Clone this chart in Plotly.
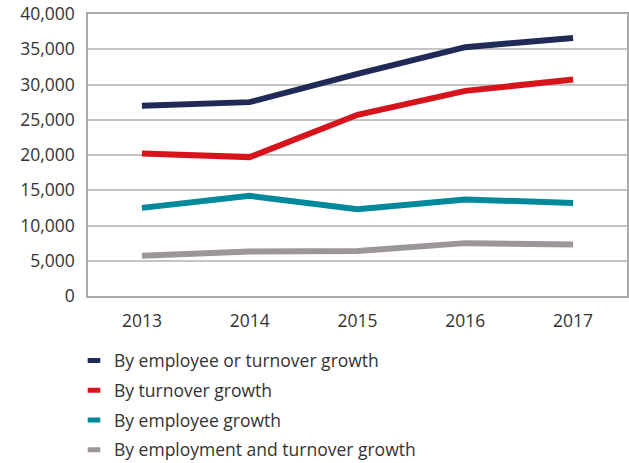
import plotly.graph_objects as go

years = ["2013", "2014", "2015", "2016", "2017"]
employee_or_turnover = [27000, 27500, 31500, 35300, 36600]
turnover = [20200, 19700, 25700, 29100, 30700]
employee = [12500, 14200, 12300, 13700, 13200]
employment_and_turnover = [5700, 6300, 6400, 7500, 7300]

series = [
    ("By employee or turnover growth", employee_or_turnover, "#1f2a57"),
    ("By turnover growth", turnover, "#d7141c"),
    ("By employee growth", employee, "#00899a"),
    ("By employment and turnover growth", employment_and_turnover, "#9d9699"),
]

fig = go.Figure()
for i, (name, vals, color) in enumerate(series):
    # data line
    fig.add_trace(go.Scatter(
        x=years, y=vals, name=name, mode="lines",
        line=dict(color=color, width=6),
        showlegend=False, legendgroup=f"g{i}",
    ))
    # short dash used as the legend key
    fig.add_trace(go.Scatter(
        x=[None], y=[None], name=name, mode="markers",
        marker=dict(symbol="line-ew", size=9,
                    line=dict(color=color, width=6)),
        showlegend=True, legendgroup=f"g{i}",
    ))

font_family = "Open Sans, sans-serif"
fig.update_layout(
    width=629, height=463,
    margin=dict(l=88, r=2, t=14, b=167, autoexpand=False),
    paper_bgcolor="white", plot_bgcolor="white",
    font=dict(family=font_family, size=17, color="#333333"),
    showlegend=True,
    legend=dict(
        x=-0.026, xanchor="left", y=-0.165, yanchor="top",
        traceorder="grouped", tracegroupgap=4,
        itemwidth=30, itemsizing="trace",
        font=dict(size=17.5, color="#333333"),
        bgcolor="rgba(0,0,0,0)",
    ),
    xaxis=dict(
        type="category", range=[-0.5, 4.5],
        showgrid=False, showline=True, mirror=True,
        linecolor="#a9a9a9", linewidth=1.5,
        ticks="", tickfont=dict(size=17.5),
        ticklabelstandoff=8,
    ),
    yaxis=dict(
        range=[0, 40000], dtick=5000, tickformat=",d",
        showgrid=True, gridcolor="#c4c4c4", gridwidth=1.5,
        showline=True, mirror=True,
        linecolor="#a9a9a9", linewidth=1.5,
        zeroline=False, ticks="", tickfont=dict(size=17.5),
        ticklabelstandoff=8,
    ),
)

fig.write_html("out.html")
